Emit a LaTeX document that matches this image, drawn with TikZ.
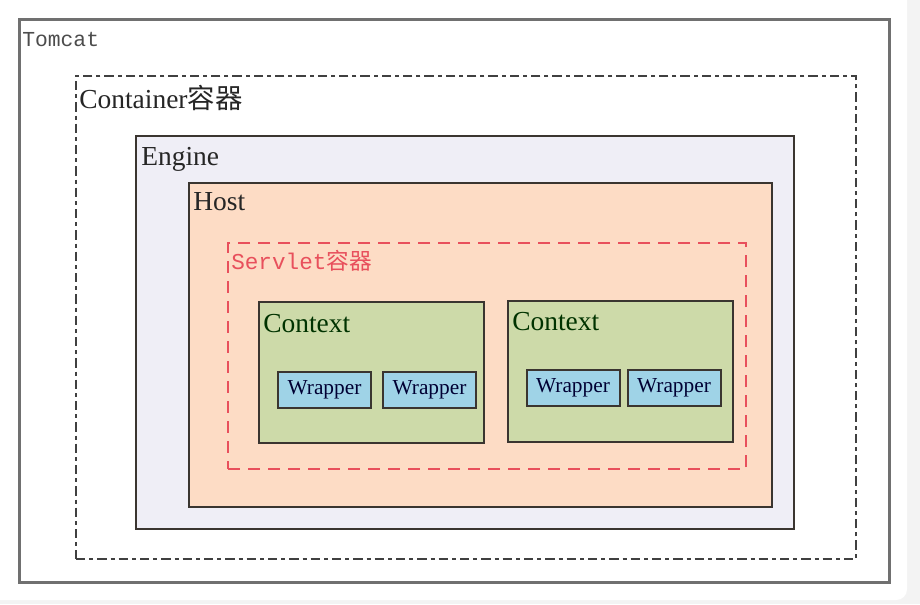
\documentclass[tikz,border=0pt]{standalone}
\usepackage{fontspec}
\setmainfont{Liberation Serif}
\setmonofont{Liberation Mono}
\newfontfamily\cjk{Noto Sans CJK SC}
\usepackage{xcolor}
\usepackage{tikz}
\usetikzlibrary{positioning}

\definecolor{pagegray}{HTML}{F3F3F3}
\definecolor{framegray}{HTML}{707070}
\definecolor{enginefill}{HTML}{EFEEF6}
\definecolor{hostfill}{HTML}{FDDCC5}
\definecolor{servletred}{HTML}{E8505C}
\definecolor{contextfill}{HTML}{CDDAA9}
\definecolor{wrapperfill}{HTML}{9FD3E7}
\definecolor{boxline}{HTML}{3A3530}

\begin{document}
\begin{tikzpicture}[x=0.75pt, y=-0.75pt]

% Define styles for the boxes
\tikzstyle{layer} = [rectangle, anchor=north west, inner sep=0pt, draw=boxline, line width=1.5pt]
\tikzstyle{caption} = [anchor=base west, inner sep=0pt, font=\fontsize{20.6}{24}\selectfont, text=black!85]
\tikzstyle{ctxbox} = [layer, fill=contextfill, minimum width=168.75pt, minimum height=105.75pt]
\tikzstyle{wrapbox} = [rectangle, draw=boxline, line width=1.5pt, fill=wrapperfill, minimum width=69.75pt, minimum height=27pt, inner sep=0pt, font=\fontsize{16}{18}\selectfont, text=black!80!blue]

% Page
\useasboundingbox (0,0) rectangle (920,604);
\fill[pagegray] (0,0) rectangle (920,604);
\fill[white, rounded corners=8pt] (-20,-20) rectangle (907,600);

% Boxes
\node (tomcat) [layer, draw=framegray, line width=2pt, minimum width=652.5pt, minimum height=422.25pt] at (18,18) {};
\node (container) [layer, draw=black!75, line width=1.5pt, dash pattern=on 7pt off 3pt on 3pt off 3pt, minimum width=585pt, minimum height=362.25pt] at (75,75) {};
\node (engine) [layer, fill=enginefill, minimum width=493.5pt, minimum height=294.75pt] at (135,135) {};
\node (host) [layer, fill=hostfill, minimum width=437.25pt, minimum height=243pt] at (188,182) {};
\node (servlet) [layer, draw=servletred, line width=1.8pt, dash pattern=on 9pt off 6pt, minimum width=388.5pt, minimum height=169.5pt] at (227,242) {};
\node (ctxa) [ctxbox] at (258,301) {};
\node (ctxb) [ctxbox] at (507,300) {};

% Wrappers
\node (wrapa) [wrapbox] at (324.5,390) {Wrapper};
\node (wrapb) [wrapbox, right=7.5pt of wrapa] {Wrapper};
\node (wrapc) [wrapbox] at (573,388) {Wrapper};
\node (wrapd) [wrapbox, right=4.5pt of wrapc] {Wrapper};

% Captions
\node (tomcattxt) [caption, font=\ttfamily\fontsize{16}{18}\selectfont, text=black!70] at (22,46) {Tomcat};
\node (containertxt) [caption] at (79,108) {Container{\cjk 容器}};
\node (enginetxt) [caption] at (141,165) {Engine};
\node (hosttxt) [caption] at (193,210) {Host};
\node (servlettxt) [caption, font=\ttfamily\fontsize{17}{20}\selectfont, text=servletred] at (231,269) {Servlet{\cjk 容器}};
\node (ctxatxt) [caption, text=black!80!green] at (263,332) {Context};
\node (ctxbtxt) [caption, text=black!80!green] at (512,330) {Context};

\end{tikzpicture}
\end{document}
